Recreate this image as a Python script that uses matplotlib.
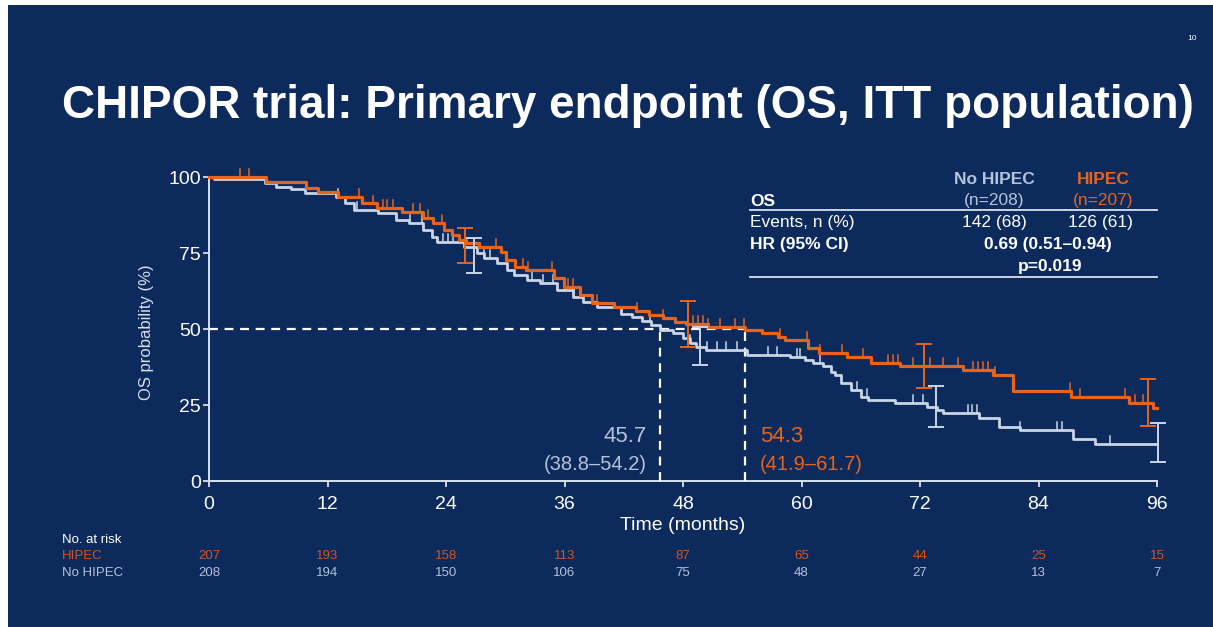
import numpy as np
import matplotlib
matplotlib.use("Agg")
import matplotlib.pyplot as plt
from matplotlib import transforms

plt.rcParams['font.family'] = ['Liberation Sans', 'DejaVu Sans']

# Kaplan-Meier steps: month where the step starts, OS (%) after it
hipec_t = [0, 5.8, 9.8, 11.0, 13.1, 15.5, 17.0, 19.5, 21.7, 22.7, 23.8, 24.6, 25.3,
           26.0, 27.3, 29.6, 30.1, 31.0, 32.1, 34.9, 35.9, 37.6, 38.8, 41.0, 43.2,
           44.6, 46.0, 47.2, 48.3, 50.5, 54.3, 56.0, 57.6, 58.3, 60.7, 61.8, 64.6,
           67.0, 70.0, 76.4, 79.4, 81.4, 87.3, 93.2, 95.6]
hipec_s = [100, 98.5, 96.3, 95.2, 93.5, 91.3, 89.7, 88.6, 86.4, 84.8, 82.6, 80.9, 79.3,
           78.3, 77.1, 75.4, 72.7, 70.5, 69.4, 66.8, 63.9, 61.2, 58.5, 57.2, 56.0,
           54.6, 53.6, 52.3, 51.6, 50.7, 49.6, 48.7, 47.4, 46.4, 43.8, 42.1, 40.8,
           38.8, 37.8, 36.5, 34.9, 29.6, 27.6, 25.6, 24.0]

nohipec_t = [0, 0.5, 5.7, 6.8, 8.3, 9.7, 12.9, 13.8, 14.7, 17.1, 18.9, 20.3, 21.7,
             22.6, 23.1, 25.8, 27.1, 27.8, 29.2, 30.2, 30.9, 32.2, 33.5, 35.2, 36.9,
             37.9, 39.3, 41.7, 42.8, 43.8, 44.8, 45.7, 47.0, 48.0, 48.7, 49.3, 50.3,
             54.5, 58.8, 60.4, 61.2, 62.2, 63.0, 63.4, 64.0, 65.0, 66.0, 66.7, 69.5,
             72.7, 73.7, 74.3, 78.0, 80.0, 82.1, 87.5, 89.7]
nohipec_s = [100, 99.2, 98.0, 96.8, 96.0, 94.6, 93.5, 91.4, 89.1, 88.1, 85.9, 84.8, 82.6,
             80.4, 78.7, 77.1, 75.0, 73.4, 71.7, 69.4, 67.8, 66.1, 65.0, 62.8, 60.6,
             59.0, 57.2, 55.0, 53.8, 52.5, 51.2, 49.7, 48.7, 47.0, 45.4, 44.0, 43.1,
             41.4, 40.8, 39.8, 38.8, 37.8, 36.0, 34.9, 32.2, 29.9, 27.6, 26.6, 25.6,
             24.4, 23.4, 22.4, 20.7, 17.8, 16.8, 13.8, 12.2]

# censored patients (months)
hipec_cens = [3.1, 4.0, 15.2, 16.6, 17.6, 18.0, 18.6, 20.7, 21.4, 22.2, 23.6, 29.1,
              31.8, 32.3, 34.7, 36.4, 36.9, 39.3, 43.3, 46.0, 49.0, 49.5, 50.0, 50.5,
              51.7, 53.3, 54.2, 57.8, 60.6, 61.9, 64.1, 66.2, 68.8, 69.3, 69.8, 71.3,
              73.0, 74.3, 75.8, 77.4, 77.9, 78.4, 78.9, 79.6, 87.2, 88.2, 92.8, 93.8, 94.6]
nohipec_cens = [13.1, 15.0, 20.4, 21.6, 23.7, 24.2, 24.7, 27.8, 28.5, 32.7, 33.8, 34.8,
                36.0, 37.0, 44.7, 48.7, 50.4, 51.4, 52.4, 53.5, 56.6, 57.5, 59.5, 59.8,
                61.9, 65.6, 66.6, 71.3, 72.3, 76.9, 77.3, 77.8, 82.1, 85.9, 86.4, 91.2]

# 95% CI bars: month, lower, upper
hipec_ci_t = [25.9, 48.5, 72.4, 95.1]
hipec_ci_lo = [71.8, 44.2, 30.7, 18.1]
hipec_ci_hi = [83.2, 59.1, 45.1, 33.6]
nohipec_ci_t = [26.8, 49.7, 73.6, 96.1]
nohipec_ci_lo = [68.5, 38.2, 17.9, 6.4]
nohipec_ci_hi = [80.0, 50.5, 31.4, 19.1]

medians = [45.7, 54.3]

risk_months = [0, 12, 24, 36, 48, 60, 72, 84, 96]
risk_hipec = [207, 193, 158, 113, 87, 65, 44, 25, 15]
risk_nohipec = [208, 194, 150, 106, 75, 48, 27, 13, 7]

BG = '#0c2a5c'
ORANGE = '#e8641c'
ORANGE_DK = '#d4541f'
GREY = '#c8d5e6'
GREY_TXT = '#b3c3d8'
AXIS = '#d8e0ec'

W, H = 1213, 627
fig = plt.figure(figsize=(W / 100, H / 100), dpi=100, facecolor=BG)


def fx(px):
    return px / W


def fy(py):
    return 1 - py / H


# white frame strips on left and top
fig.patches.append(plt.Rectangle((0, 0), fx(8), 1, transform=fig.transFigure,
                                 facecolor='white', edgecolor='none', zorder=10))
fig.patches.append(plt.Rectangle((0, fy(5)), 1, fx(5) * W / H, transform=fig.transFigure,
                                 facecolor='white', edgecolor='none', zorder=10))

ax = fig.add_axes([fx(209), fy(481), fx(1157 - 209), (481 - 177) / H])
ax.set_facecolor(BG)


def step_value(ts, ss, t):
    i = np.searchsorted(ts, t, side='right') - 1
    return ss[i]


def draw_arm(ts, ss, cens, ci_t, ci_lo, ci_hi, color, lw):
    ts = np.array(ts + [96.0])
    ss = np.array(ss + [ss[-1]])
    ax.step(ts, ss, where='post', color=color, lw=lw, clip_on=False, zorder=4)
    for c in cens:
        y = step_value(ts, ss, c)
        ax.plot([c, c], [y, y + 2.6], color=color, lw=1.1, clip_on=False, zorder=4)
    lo = np.array(ci_lo)
    hi = np.array(ci_hi)
    mid = (lo + hi) / 2
    ax.errorbar(ci_t, mid, yerr=[mid - lo, hi - mid], fmt='none', ecolor=color,
                elinewidth=1.4, capsize=5.5, capthick=1.4, clip_on=False, zorder=5)


draw_arm(nohipec_t, nohipec_s, nohipec_cens, nohipec_ci_t, nohipec_ci_lo, nohipec_ci_hi,
         GREY, 2.0)
draw_arm(hipec_t, hipec_s, hipec_cens, hipec_ci_t, hipec_ci_lo, hipec_ci_hi,
         ORANGE, 2.3)

# median lines
ax.plot([0, medians[1]], [50, 50], color='white', lw=1.6, ls=(0, (4, 3)), zorder=3)
for m in medians:
    ax.plot([m, m], [0, 50], color='white', lw=1.6, ls=(0, (4, 3)), zorder=3)

ax.set_xlim(0, 96)
ax.set_ylim(0, 100)
ax.set_xticks(risk_months)
ax.set_yticks([0, 25, 50, 75, 100])
for s in ['top', 'right']:
    ax.spines[s].set_visible(False)
for s in ['left', 'bottom']:
    ax.spines[s].set_color(AXIS)
    ax.spines[s].set_linewidth(1.4)
ax.tick_params(axis='x', colors=AXIS, labelcolor='white', labelsize=14,
               length=4, width=1.3, pad=7)
ax.tick_params(axis='y', colors=AXIS, labelcolor='white', labelsize=14,
               length=4, width=1.3, pad=2)

ax.text(medians[0] - 1.4, 14.5, '45.7', color=GREY_TXT, fontsize=16, ha='right', va='center')
ax.text(medians[0] - 1.4, 5.5, '(38.8–54.2)', color=GREY_TXT, fontsize=14.5,
        ha='right', va='center')
ax.text(medians[1] + 1.5, 14.5, '54.3', color=ORANGE, fontsize=16, ha='left', va='center')
ax.text(medians[1] + 1.5, 5.5, '(41.9–61.7)', color=ORANGE, fontsize=14.5,
        ha='left', va='center')

fig.text(fx(146), fy(332), 'OS probability (%)', color='#d8e0ec', fontsize=12,
         rotation=90, ha='center', va='center')
fig.text(fx(683), fy(526), 'Time (months)', color='white', fontsize=14,
         ha='center', va='center')

fig.text(fx(62), fy(106), 'CHIPOR trial: Primary endpoint (OS, ITT population)',
         color='white', fontsize=33, fontweight='bold', ha='left', va='center')
fig.text(fx(1192), fy(39), '10', color='white', fontsize=6, ha='center', va='center')

# summary table
fs = 12.5
fig.text(fx(994), fy(179), 'No HIPEC', color=GREY_TXT, fontsize=fs, fontweight='bold',
         ha='center', va='center')
fig.text(fx(994), fy(200), '(n=208)', color=GREY_TXT, fontsize=fs, ha='center', va='center')
fig.text(fx(1103), fy(179), 'HIPEC', color=ORANGE, fontsize=fs, fontweight='bold',
         ha='center', va='center')
fig.text(fx(1103), fy(200), '(n=207)', color=ORANGE, fontsize=fs, ha='center', va='center')
fig.text(fx(750), fy(201), 'OS', color='white', fontsize=fs, fontweight='bold',
         ha='left', va='center')
fig.add_artist(plt.Line2D([fx(750), fx(1157)], [fy(210), fy(210)], color=AXIS, lw=1.3))
fig.text(fx(750), fy(223), 'Events, n (%)', color='white', fontsize=fs, ha='left', va='center')
fig.text(fx(994), fy(223), '142 (68)', color='white', fontsize=fs, ha='center', va='center')
fig.text(fx(1100), fy(223), '126 (61)', color='white', fontsize=fs, ha='center', va='center')
fig.text(fx(750), fy(245), 'HR (95% CI)', color='white', fontsize=fs, fontweight='bold',
         ha='left', va='center')
fig.text(fx(1048), fy(245), '0.69 (0.51–0.94)', color='white', fontsize=fs,
         fontweight='bold', ha='center', va='center')
fig.text(fx(1050), fy(267), 'p=0.019', color='white', fontsize=fs, fontweight='bold',
         ha='center', va='center')
fig.add_artist(plt.Line2D([fx(750), fx(1157)], [fy(277), fy(277)], color=AXIS, lw=1.3))

# numbers at risk
blend = transforms.blended_transform_factory(ax.transData, fig.transFigure)
fig.text(fx(62), fy(540), 'No. at risk', color='white', fontsize=9.5, ha='left', va='center')
fig.text(fx(62), fy(556), 'HIPEC', color=ORANGE_DK, fontsize=9.5, ha='left', va='center')
fig.text(fx(62), fy(573), 'No HIPEC', color=GREY_TXT, fontsize=9.5, ha='left', va='center')
for m, a, b in zip(risk_months, risk_hipec, risk_nohipec):
    ax.text(m, fy(556), str(a), color=ORANGE_DK, fontsize=9.5, ha='center', va='center',
            transform=blend)
    ax.text(m, fy(573), str(b), color=GREY_TXT, fontsize=9.5, ha='center', va='center',
            transform=blend)

fig.savefig('out.png', dpi=100, facecolor=BG)
